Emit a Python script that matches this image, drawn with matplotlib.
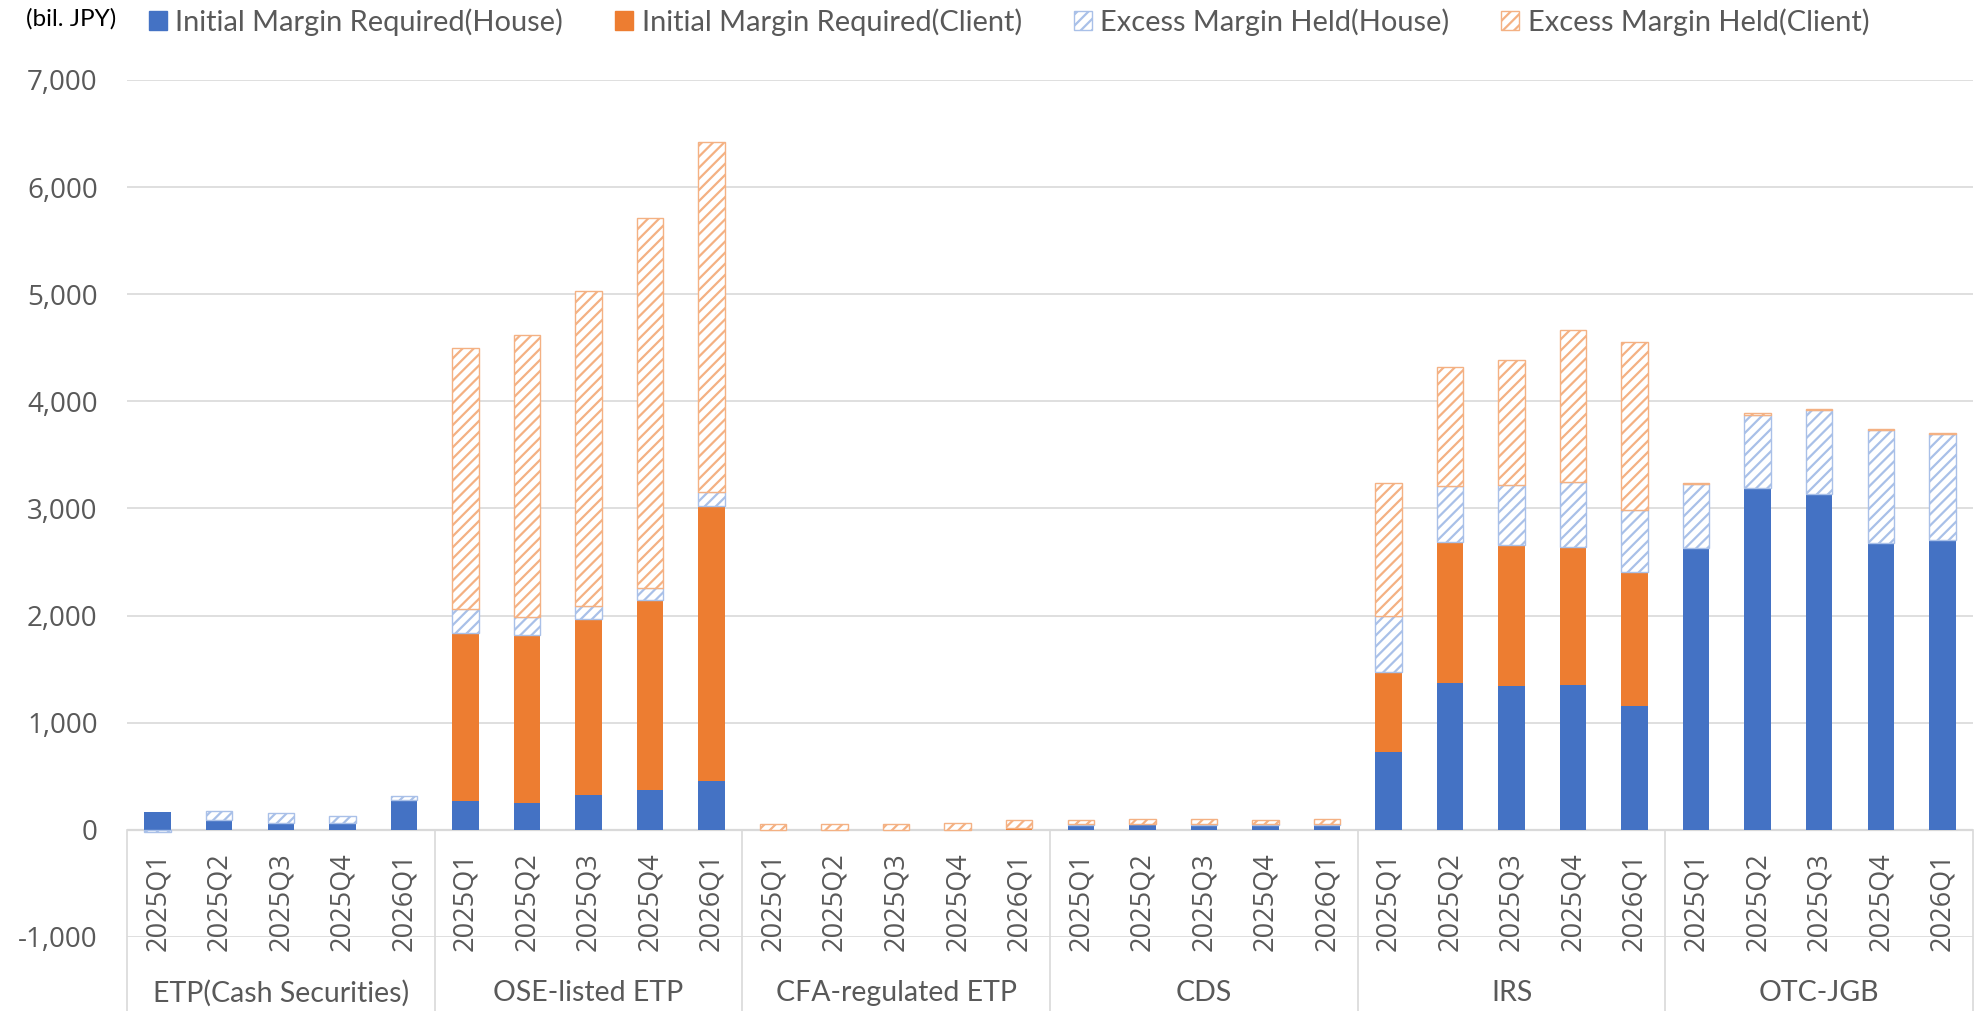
import matplotlib.pyplot as plt
from matplotlib.patches import Patch
from matplotlib.transforms import blended_transform_factory

groups = ['ETP(Cash Securities)', 'OSE-listed ETP', 'CFA-regulated ETP', 'CDS', 'IRS', 'OTC-JGB']
quarters = ['2025Q1', '2025Q2', '2025Q3', '2025Q4', '2026Q1']

# bil. JPY, 5 quarters per group
im_house = [165, 90, 65, 65, 275,
            270, 250, 330, 370, 460,
            0, 0, 0, 0, 0,
            45, 47, 45, 43, 45,
            723, 1375, 1345, 1350, 1155,
            2633, 3183, 3130, 2677, 2703]
im_client = [0, 0, 0, 0, 0,
             1570, 1570, 1640, 1780, 2560,
             0, 0, 0, 0, 20,
             5, 5, 5, 5, 5,
             755, 1315, 1312, 1290, 1255,
             0, 5, 5, 5, 5]
ex_house = [-20, 85, 90, 60, 40,
            225, 165, 120, 105, 130,
            0, 0, 0, 0, 0,
            5, 5, 5, 5, 5,
            517, 520, 566, 610, 580,
            594, 684, 780, 1046, 987]
ex_client = [0, 0, 0, 0, 0,
             2430, 2630, 2940, 3460, 3270,
             58, 58, 58, 62, 75,
             35, 43, 42, 37, 45,
             1245, 1113, 1160, 1417, 1560,
             13, 16, 13, 14, 13]

blue = '#4472C4'
orange = '#ED7D31'
lblue = '#A9C0E8'
lorange = '#F4B183'
grey = '#595959'

plt.rcParams['font.family'] = ['Open Sans', 'DejaVu Sans']
plt.rcParams['hatch.linewidth'] = 1.6

fig = plt.figure(figsize=(19.83, 10.11), dpi=100)
ax = fig.add_axes([0.064, 0.0732, 0.931, 0.8477])

x = list(range(len(im_house)))
pos = [0] * len(x)
neg = [0] * len(x)

series = [
    (im_house, dict(color=blue), 'Initial Margin Required(House)'),
    (im_client, dict(color=orange), 'Initial Margin Required(Client)'),
    (ex_house, dict(facecolor='white', edgecolor=lblue, hatch='///'), 'Excess Margin Held(House)'),
    (ex_client, dict(facecolor='white', edgecolor=lorange, hatch='///'), 'Excess Margin Held(Client)'),
]
handles = []
for vals, style, name in series:
    bottoms = [pos[i] if v >= 0 else neg[i] for i, v in enumerate(vals)]
    lw = [1 if v != 0 else 0 for v in vals]
    ax.bar(x, vals, width=0.43, bottom=bottoms, linewidth=lw, zorder=3, **style)
    for i, v in enumerate(vals):
        if v >= 0:
            pos[i] += v
        else:
            neg[i] += v
    handles.append(Patch(label=name, linewidth=1, **style))

ax.set_xlim(-0.5, len(x) - 0.5)
ax.set_ylim(-1000, 7000)
ax.set_yticks(range(-1000, 7001, 1000))
ax.set_yticklabels([f'{v:,}' for v in range(-1000, 7001, 1000)])
ax.tick_params(axis='y', length=0, pad=21, labelsize=20, labelcolor=grey)
ax.set_xticks([])
ax.grid(axis='y', color='#D9D9D9', linewidth=1.2, zorder=0)
for s in ax.spines.values():
    s.set_visible(False)
ax.axhline(0, color='#D9D9D9', linewidth=1.6, zorder=2)

# quarter labels hang from the zero line
for i in x:
    ax.annotate(quarters[i % 5], (i, 0), xytext=(0, -16), textcoords='offset points',
                rotation=90, ha='center', va='top', fontsize=19.5, color=grey,
                annotation_clip=False)

# group separators and group names
for b in range(len(groups) + 1):
    ax.plot([b * 5 - 0.5, b * 5 - 0.5], [0, -1800], color='#D9D9D9', linewidth=1.2,
            clip_on=False, zorder=1)
trans = blended_transform_factory(ax.transData, fig.transFigure)
for g, name in enumerate(groups):
    ax.text(g * 5 + 2, 0.018, name, transform=trans, ha='center', va='center',
            fontsize=20.5, color=grey, family=['Lato', 'DejaVu Sans'])

fig.text(0.013, 0.981, '(bil. JPY)', ha='left', va='center', fontsize=17.5, color='black',
         family=['Lato', 'DejaVu Sans'])
leg = fig.legend(handles=handles, loc='center left', bbox_to_anchor=(0.068, 0.978), ncol=4,
                 frameon=False, handlelength=0.62, handleheight=0.62,
                 handletextpad=0.28, columnspacing=1.8, borderpad=0,
                 prop={'family': ['Lato', 'DejaVu Sans'], 'size': 20.9})
for t in leg.get_texts():
    t.set_color(grey)

fig.savefig('out.png', dpi=100)
